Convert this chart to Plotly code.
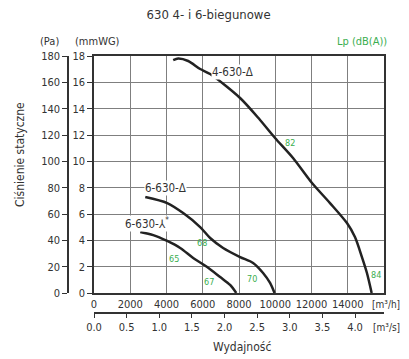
import plotly.graph_objects as go

# ---- data ----
flow_4_630_d = [4370, 4645, 5196, 5857, 6408, 8060, 9162, 9989, 10981, 12028, 13020, 13957, 14398, 14783, 15059, 15320]
pres_4_630_d = [17.69, 17.81, 17.62, 17.01, 16.63, 14.81, 13.14, 11.77, 10.25, 8.35, 6.83, 5.31, 4.25, 2.73, 1.52, 0.0]

flow_6_630_d = [2828, 4039, 4920, 5857, 6408, 7124, 8061, 8777, 9328, 9714, 9960]
pres_6_630_d = [7.29, 6.83, 6.07, 5.01, 4.18, 3.42, 2.73, 2.28, 1.52, 0.76, 0.0]

flow_6_630_y = [2551, 3268, 4039, 4755, 5471, 6243, 6959, 7510, 7850]
pres_6_630_y = [4.63, 4.40, 3.95, 3.42, 2.66, 1.97, 1.21, 0.61, 0.0]

curve_names = ["4-630-Δ", "6-630-Δ", "6-630-⅄<sup>*</sup>"]
curve_label_x = [7620, 3929, 2937]
curve_label_y = [16.78, 7.97, 5.31]

lp_values = ["82", "68", "65", "67", "70", "84"]
lp_x = [10816, 5967, 4425, 6353, 8722, 15555]
lp_y = [11.39, 3.80, 2.58, 0.84, 1.06, 1.37]

x_ticks_m3h = [0, 2000, 4000, 6000, 8000, 10000, 12000, 14000]
x_ticks_m3s = [0.0, 0.5, 1.0, 1.5, 2.0, 2.5, 3.0, 3.5, 4.0]
y_ticks_mmwg = [0, 2, 4, 6, 8, 10, 12, 14, 16, 18]
y_ticks_pa = [0, 20, 40, 60, 80, 100, 120, 140, 160, 180]

FONT = "Liberation Sans Narrow, DejaVu Sans Condensed, Arial Narrow, sans-serif"
TXT = "#333333"
GREEN = "#3aae4f"
CURVE = "#222222"

# geometry (pixels)
W, H = 409, 359
ML, MR, MT, MB = 30, 25, 56, 10
pw = W - ML - MR
ph = H - MT - MB


def px_x(px):
    return (px - ML) / pw


def px_y(py):
    return (H - MB - py) / ph


fig = go.Figure()
for fx, fy in [(flow_4_630_d, pres_4_630_d), (flow_6_630_d, pres_6_630_d), (flow_6_630_y, pres_6_630_y)]:
    fig.add_trace(go.Scatter(x=fx, y=fy, mode="lines", line=dict(color=CURVE, width=2.5, shape="spline", smoothing=0.8),
                             showlegend=False, hoverinfo="skip"))

# trace on the secondary axes (flow in m3/s, pressure in Pa) so they are drawn
fig.add_trace(go.Scatter(x=[v / 3600 for v in flow_4_630_d], y=[v * 10 for v in pres_4_630_d],
                         xaxis="x2", yaxis="y2", mode="lines", line=dict(color="rgba(0,0,0,0)", width=0),
                         showlegend=False, hoverinfo="skip"))

xdom0 = px_x(94)
ydom0 = px_y(293)

fig.update_layout(
    width=W, height=H,
    margin=dict(l=ML, r=MR, t=MT, b=MB, autoexpand=False),
    paper_bgcolor="white", plot_bgcolor="white",
    font=dict(family=FONT, size=11, color=TXT),
    title=dict(text="630 4- i 6-biegunowe", x=0.51, xanchor="center", y=1 - 14 / H, yanchor="middle",
               yref="container", font=dict(size=13, color=TXT, family=FONT)),
    xaxis=dict(domain=[xdom0, 1], range=[0, 16000], tickvals=x_ticks_m3h, ticktext=[str(v) for v in x_ticks_m3h],
               showgrid=True, gridcolor="#7f7f7f", gridwidth=1, zeroline=False,
               showline=True, linecolor="#333333", linewidth=1.5, mirror=True, ticks="",
               tickfont=dict(size=11), anchor="y", automargin=False),
    yaxis=dict(domain=[ydom0, 1], range=[0, 18], tickvals=y_ticks_mmwg,
               showgrid=True, gridcolor="#7f7f7f", gridwidth=1, zeroline=False,
               showline=True, linecolor="#333333", linewidth=1.5, mirror=True,
               ticks="outside", ticklen=5, tickcolor="#333333", tickfont=dict(size=11), anchor="x",
               automargin=False),
    xaxis2=dict(range=[0, 16000 / 3600], tickvals=x_ticks_m3s, ticktext=[f"{v:.1f}" for v in x_ticks_m3s],
                domain=[xdom0, 1], anchor="free", position=px_y(313), overlaying="x", side="bottom",
                showgrid=False, zeroline=False, showline=True, linecolor="#333333", linewidth=1.5,
                ticks="outside", ticklen=4, tickcolor="#333333", tickfont=dict(size=11), automargin=False),
    yaxis2=dict(range=[0, 180], tickvals=y_ticks_pa, domain=[ydom0, 1], anchor="free", position=px_x(68),
                overlaying="y", side="left", showgrid=False, zeroline=False, showline=True,
                linecolor="#333333", linewidth=1.5, ticks="outside", ticklen=5, tickcolor="#333333",
                tickfont=dict(size=11), automargin=False),
)

ann = []
for t, x, y in zip(curve_names, curve_label_x, curve_label_y):
    ann.append(dict(text=t, x=x, y=y, xref="x", yref="y", showarrow=False, bgcolor="white",
                    font=dict(size=11.5, color=TXT), borderpad=0, xanchor="center", yanchor="middle"))
for t, x, y in zip(lp_values, lp_x, lp_y):
    ann.append(dict(text=t, x=x, y=y, xref="x", yref="y", showarrow=False, font=dict(size=9, color=GREEN),
                    xanchor="center", yanchor="middle"))


def pa(text, px, py, **kw):
    d = dict(text=text, x=px_x(px), y=px_y(py), xref="paper", yref="paper", showarrow=False,
             xanchor="center", yanchor="middle")
    d.update(kw)
    return d


ann += [
    pa("(Pa)", 49, 42, font=dict(size=11)),
    pa("(mmWG)", 97, 42, font=dict(size=11)),
    pa("Lp (dB(A))", 362, 42, font=dict(size=11, color=GREEN)),
    pa("[m³/h]", 386, 304, font=dict(size=10)),
    pa("[m³/s]", 386, 327, font=dict(size=10)),
    pa("Wydajność", 242, 347, font=dict(size=12)),
    pa("Ciśnienie statyczne", 20, 155, textangle=-90, font=dict(size=12)),
]
fig.update_layout(annotations=ann)

fig.write_html("out.html", config={"displayModeBar": False},
               post_script="document.body.style.margin='0px';document.body.style.overflow='hidden';")
